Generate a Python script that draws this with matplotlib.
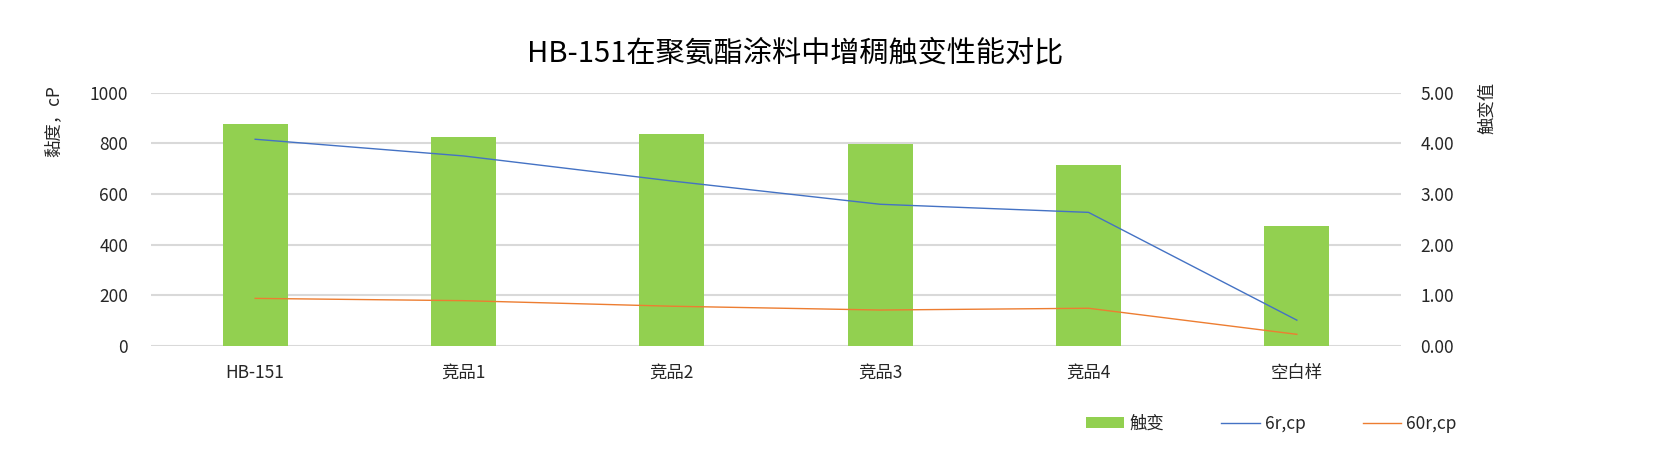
import matplotlib
matplotlib.use("Agg")
import matplotlib.pyplot as plt
import numpy as np

plt.rcParams['font.family'] = ['Noto Sans CJK SC', 'DejaVu Sans']

categories = ["HB-151", "竞品1", "竞品2", "竞品3", "竞品4", "空白样"]
thixo = [4.38, 4.12, 4.18, 3.99, 3.57, 2.37]          # 触变 (right axis)
visc_6r = [816, 750, 651, 559, 527, 101]                # 6r,cp (left axis)
visc_60r = [187, 178, 156, 141, 148, 45]                # 60r,cp (left axis)
left_ticks = [0, 200, 400, 600, 800, 1000]
right_ticks = [0.0, 1.0, 2.0, 3.0, 4.0, 5.0]

W, H = 1666, 472
fig = plt.figure(figsize=(W / 100, H / 100), dpi=100)
fig.patch.set_facecolor('white')

x0, x1 = 151, 1401
y_top, y_bot = 92.7, 345.7
ax = fig.add_axes([x0 / W, 1 - y_bot / H, (x1 - x0) / W, (y_bot - y_top) / H])

txt_color = '#262626'
fs = 12.5
x = np.arange(len(categories))

# Lines on left scale (twin axes drawn above)
ax2 = ax.twinx()

# Bars on right scale (base axes)
ax.bar(x, thixo, width=0.312, color='#92D050', zorder=2, label='触变')
ax.set_ylim(0, 5)
ax.set_xlim(-0.5, len(categories) - 0.5)
ax.set_yticks(right_ticks)
ax.set_yticklabels([f"{v:.2f}" for v in right_ticks])
ax.yaxis.tick_right()
ax.grid(axis='y', color='#D9D9D9', linewidth=1.5, zorder=0)
ax.set_axisbelow(True)
ax.set_xticks(x)
ax.set_xticklabels(categories)
ax.tick_params(axis='x', length=0, pad=13, labelsize=fs, labelcolor=txt_color)
ax.tick_params(axis='y', length=0, pad=14, labelsize=fs, labelcolor=txt_color)
for s in ax.spines.values():
    s.set_visible(False)

ax2.plot(x, visc_6r, color='#4472C4', linewidth=1.0, label='6r,cp', zorder=3)
ax2.plot(x, visc_60r, color='#ED7D31', linewidth=1.0, label='60r,cp', zorder=3)
ax2.set_ylim(0, 1000)
ax2.set_yticks(left_ticks)
ax2.set_yticklabels([str(v) for v in left_ticks])
ax2.yaxis.tick_left()
ax2.tick_params(axis='y', length=0, pad=16.5, labelsize=fs, labelcolor=txt_color)
for s in ax2.spines.values():
    s.set_visible(False)

# Axis titles
fig.text(53 / W, 1 - 121 / H, "黏度，cP", rotation=90, ha='center', va='center',
         fontsize=fs, color=txt_color)
fig.text(1487 / W, 1 - 108 / H, "触变值", rotation=90, ha='center', va='center',
         fontsize=fs, color=txt_color)

# Title
fig.text(795 / W, 1 - 53 / H, "HB-151在聚氨酯涂料中增稠触变性能对比", ha='center', va='center',
         fontsize=21, color='#000000')

# Legend
h1, l1 = ax.get_legend_handles_labels()
h2, l2 = ax2.get_legend_handles_labels()
leg = fig.legend(h1 + h2, l1 + l2, loc='center left',
                 bbox_to_anchor=(1086 / W, 1 - 424 / H), ncol=3, frameon=False,
                 fontsize=fs, handlelength=2.2, handleheight=0.6, handletextpad=0.3,
                 columnspacing=3.3, borderpad=0, borderaxespad=0)
for t in leg.get_texts():
    t.set_color(txt_color)

fig.savefig("out.png", dpi=100, facecolor='white')
